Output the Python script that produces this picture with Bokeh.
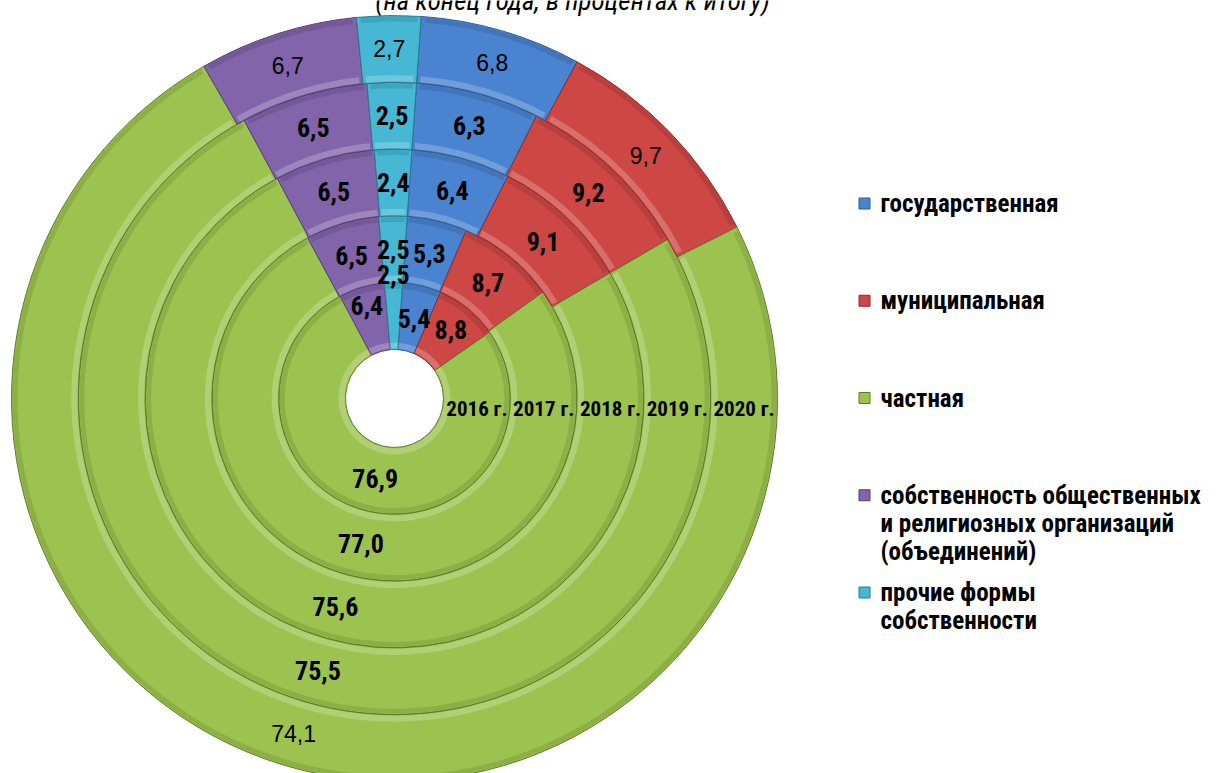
import math
from bokeh.plotting import figure
from bokeh.models import Range1d, ColumnDataSource
from bokeh.core.properties import value
from bokeh.embed import file_html
from bokeh.resources import INLINE

# ---------------- data ----------------
years = ["2016 г.", "2017 г.", "2018 г.", "2019 г.", "2020 г."]
series_names = [
    "государственная",
    "муниципальная",
    "частная",
    "собственность общественных\nи религиозных организаций\n(объединений)",
    "прочие формы\nсобственности",
]
gos = [5.4, 5.3, 6.4, 6.3, 6.8]
mun = [8.8, 8.7, 9.1, 9.2, 9.7]
chast = [76.9, 77.0, 75.6, 75.5, 74.1]
obsh = [6.4, 6.5, 6.5, 6.5, 6.7]
proch = [2.5, 2.5, 2.4, 2.5, 2.7]
series_values = [gos, mun, chast, obsh, proch]
title_text = "(на конец года, в процентах к итогу)"

# ---------------- style / layout ----------------
colors = ["#4A83CF", "#CD4744", "#9CC34F", "#8264AA", "#46B8D4"]
edge_colors = ["#2E5C96", "#8E2A28", "#5E7A2A", "#553F78", "#267A90"]
W, H = 1219, 773
CX, CY = 394, -398          # centre (page pixels, y negated)
R_HOLE, RING_W = 49, 66.8
START_DEG = 4.0             # first slice starts 4 degrees clockwise from 12 o'clock
NARROW = "Liberation Sans Narrow, Arial Narrow, Roboto Condensed, sans-serif"
# label radial position inside its ring (0 = inner edge, 1 = outer edge); default 0.5
label_shift = {(0, 4): 1.12, (0, 3): 0.72, (0, 1): 0.6}

p = figure(width=W, height=H, output_backend="svg", toolbar_location=None,
           x_range=Range1d(0, W), y_range=Range1d(-H, 0),
           x_axis_type=None, y_axis_type=None, min_border=0)
p.grid.visible = False
p.outline_line_color = None
p.background_fill_color = "white"
p.border_fill_color = "white"

seg = dict(x=[], y=[], rin=[], rout=[], sa=[], ea=[], color=[], edge=[])
hi = dict(x=[], y=[], rin=[], rout=[], sa=[], ea=[])
sh = dict(x=[], y=[], rin=[], rout=[], sa=[], ea=[])
labels = {"bold": dict(x=[], y=[], t=[]), "reg": dict(x=[], y=[], t=[])}

def to_bokeh(deg_cw):
    return math.radians(90.0 - deg_cw)

for i, yr in enumerate(years):
    rin = R_HOLE + RING_W * i
    rout = rin + RING_W
    cum = 0.0
    for k, vals in enumerate(series_values):
        v = vals[i]
        a0 = START_DEG + cum * 3.6
        a1 = START_DEG + (cum + v) * 3.6
        seg["x"].append(CX); seg["y"].append(CY)
        seg["rin"].append(rin); seg["rout"].append(rout)
        seg["sa"].append(to_bokeh(a0)); seg["ea"].append(to_bokeh(a1))
        seg["color"].append(colors[k]); seg["edge"].append(edge_colors[k])
        for d, r0, r1 in ((hi, rin + 1, rin + 7), (sh, rout - 6, rout - 1)):
            d["x"].append(CX); d["y"].append(CY)
            d["rin"].append(r0); d["rout"].append(r1)
            d["sa"].append(to_bokeh(a0 + 0.6)); d["ea"].append(to_bokeh(a1 - 0.6))
        mid = math.radians((a0 + a1) / 2)
        rl = rin + RING_W * label_shift.get((i, k), 0.5)
        key = "reg" if i == len(years) - 1 else "bold"
        labels[key]["x"].append(CX + rl * math.sin(mid))
        labels[key]["y"].append(CY + rl * math.cos(mid))
        labels[key]["t"].append(f"{v:.1f}".replace(".", ","))
        cum += v

src = ColumnDataSource(seg)
p.annular_wedge(x="x", y="y", inner_radius="rin", outer_radius="rout",
                start_angle="sa", end_angle="ea", direction="clock",
                fill_color="color", line_color="edge", line_width=1, source=src)
p.annular_wedge(x="x", y="y", inner_radius="rin", outer_radius="rout",
                start_angle="sa", end_angle="ea", direction="clock",
                fill_color="white", fill_alpha=0.22, line_color=None,
                source=ColumnDataSource(hi))
p.annular_wedge(x="x", y="y", inner_radius="rin", outer_radius="rout",
                start_angle="sa", end_angle="ea", direction="clock",
                fill_color="black", fill_alpha=0.10, line_color=None,
                source=ColumnDataSource(sh))

p.text(x="x", y="y", text="t", source=ColumnDataSource(labels["bold"]),
       text_font=value(NARROW), text_font_style="bold", text_font_size="26px",
       text_align="center", text_baseline="middle", text_color="black")
p.text(x="x", y="y", text="t", source=ColumnDataSource(labels["reg"]),
       text_font=value("Liberation Sans"), text_font_size="23px",
       text_align="center", text_baseline="middle", text_color="black")

# year labels along the horizontal radius
yx = [CX + R_HOLE + RING_W * (i + 0.5) for i in range(len(years))]
p.text(x=yx, y=[CY] * len(years), text=years, y_offset=10,
       text_font=value(NARROW), text_font_style="bold", text_font_size="21px",
       text_align="center", text_baseline="middle", text_color="black")

# title (cut at the top as in the original)
p.text(x=[572], y=[0], text=[title_text], text_font=value(NARROW),
       text_font_style="italic", text_font_size="27px",
       text_align="center", text_baseline="alphabetic", text_color="black")

# legend
LX, LY0, LDY, LINE = 864, -203, 97.25, 28
for k, name in enumerate(series_names):
    ly = LY0 - LDY * k
    p.rect(x=[LX], y=[ly], width=11, height=11, fill_color=colors[k],
           line_color=edge_colors[k], line_width=1)
    lines = name.split("\n")
    p.text(x=[LX + 16] * len(lines), y=[ly - LINE * j for j in range(len(lines))],
           text=lines, text_font=value(NARROW), text_font_style="bold",
           text_font_size="25px", text_align="left", text_baseline="middle",
           text_color="black")

open("out.html", "w").write(file_html(p, INLINE))
